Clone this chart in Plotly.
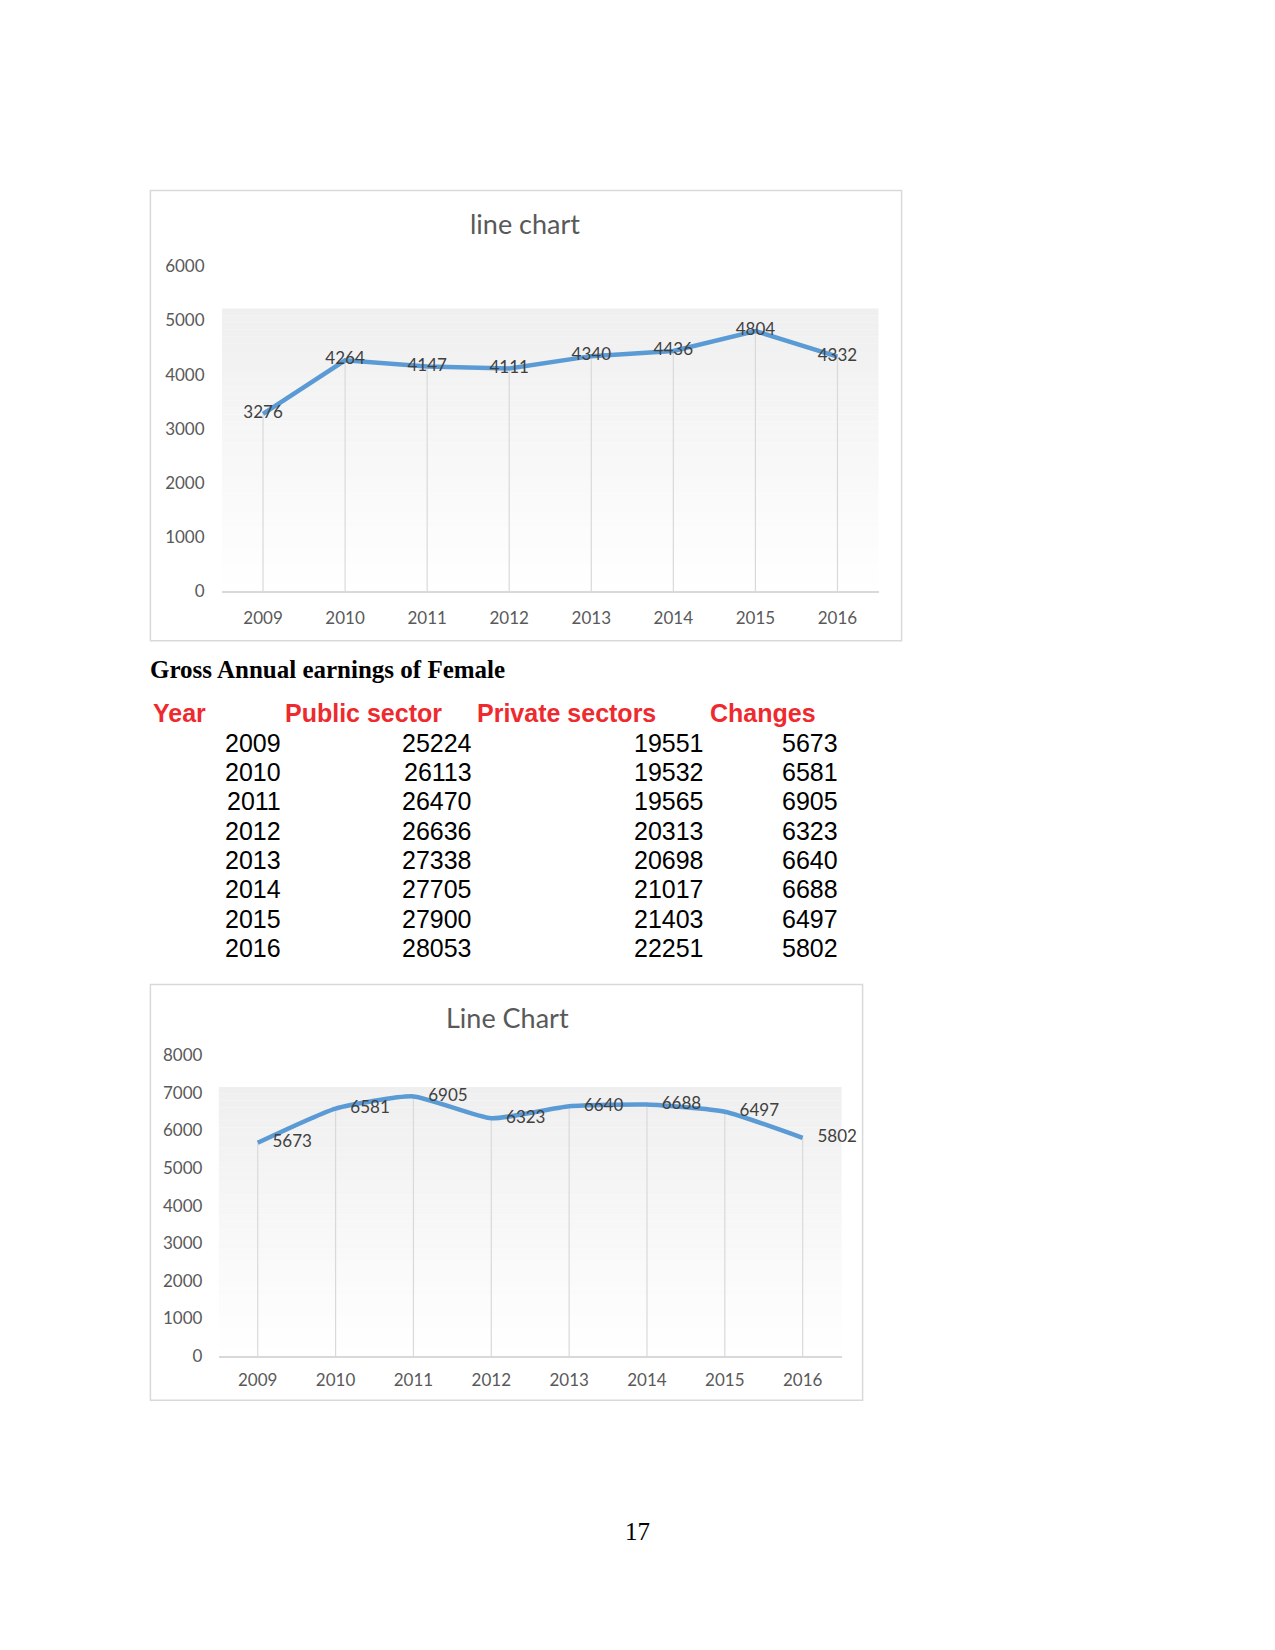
import plotly.graph_objects as go

# ---------------- data ----------------
years = ["2009", "2010", "2011", "2012", "2013", "2014", "2015", "2016"]
chart1_values = [3276, 4264, 4147, 4111, 4340, 4436, 4804, 4332]
public_sector = [25224, 26113, 26470, 26636, 27338, 27705, 27900, 28053]
private_sectors = [19551, 19532, 19565, 20313, 20698, 21017, 21403, 22251]
changes = [5673, 6581, 6905, 6323, 6640, 6688, 6497, 5802]
table_headers = ["Year", "Public sector", "Private sectors", "Changes"]
chart1_title = "line chart"
chart2_title = "Line Chart"
table_title = "Gross Annual earnings of Female"
page_number = "17"

W, H = 1275, 1650
def px(x):
    return x / W
def py(y):
    return 1 - y / H

LINE_COLOR = "#5B9BD5"
GRID_COLOR = "#D9D9D9"
TEXT_COLOR = "#595959"
LABEL_COLOR = "#404040"
FONT = "Lato"

fig = go.Figure()

def drop_lines(xs, ys, xa, ya):
    dx, dy = [], []
    for xv, yv in zip(xs, ys):
        dx += [xv, xv, None]
        dy += [0, yv, None]
    return go.Scatter(x=dx, y=dy, mode="lines", xaxis=xa, yaxis=ya,
                      line=dict(color=GRID_COLOR, width=1.2),
                      hoverinfo="skip", showlegend=False)

# chart 1
fig.add_trace(drop_lines(years, chart1_values, "x", "y"))
fig.add_trace(go.Scatter(
    x=years, y=chart1_values, mode="lines+text", xaxis="x", yaxis="y",
    text=[str(v) for v in chart1_values], textposition="middle center",
    textfont=dict(family=FONT, size=17, color=LABEL_COLOR),
    line=dict(color=LINE_COLOR, width=4.5), showlegend=False,
    cliponaxis=False))

# chart 2
fig.add_trace(drop_lines(years, changes, "x2", "y2"))
fig.add_trace(go.Scatter(
    x=years, y=changes, mode="lines+markers+text", xaxis="x2", yaxis="y2",
    text=[str(v) for v in changes], textposition="middle right",
    textfont=dict(family=FONT, size=17, color=LABEL_COLOR),
    marker=dict(size=22, color="rgba(0,0,0,0)"),
    line=dict(color=LINE_COLOR, width=4.5, shape="spline", smoothing=0.5),
    showlegend=False, cliponaxis=False))

axis_common = dict(showgrid=False, zeroline=False, fixedrange=True,
                   tickfont=dict(family=FONT, size=17, color=TEXT_COLOR))

fig.update_layout(
    width=W, height=H, margin=dict(l=0, r=0, t=0, b=0, autoexpand=False),
    paper_bgcolor="white", plot_bgcolor="rgba(0,0,0,0)",
    xaxis=dict(domain=[px(222), px(878.5)], anchor="y", type="category",
               range=[-0.5, 7.5], showline=True, linecolor=GRID_COLOR, linewidth=1.5,
               ticks="outside", ticklen=11, tickcolor="rgba(0,0,0,0)", **axis_common),
    yaxis=dict(domain=[py(591.3), py(266.2)], anchor="x", range=[0, 6000],
               dtick=1000, showline=False, ticks="outside", ticklen=13,
               tickcolor="rgba(0,0,0,0)", **axis_common),
    xaxis2=dict(domain=[px(218.8), px(841.6)], anchor="y2", type="category",
                range=[-0.5, 7.5], showline=True, linecolor=GRID_COLOR, linewidth=1.5,
                ticks="outside", ticklen=8, tickcolor="rgba(0,0,0,0)", **axis_common),
    yaxis2=dict(domain=[py(1356.1), py(1055.2)], anchor="x2", range=[0, 8000],
                dtick=1000, showline=False, ticks="outside", ticklen=12,
                tickcolor="rgba(0,0,0,0)", **axis_common),
)

shapes = []
# gradient plot backgrounds
def gradient(xref, yref, top_frac, n=40):
    out = []
    for i in range(n):
        f0 = top_frac * i / n
        f1 = top_frac * (i + 1) / n
        t = 1 - (i + 0.5) / n  # 1 at top, 0 at bottom
        c = int(round(239 + (255 - 239) * t))
        out.append(dict(type="rect", xref=xref, yref=yref, x0=0, x1=1, y0=f0, y1=f1,
                        fillcolor=f"rgb({c},{c},{c})", line=dict(width=0), layer="below"))
    return out

shapes += gradient("x domain", "y domain", 0.87)
shapes += gradient("x2 domain", "y2 domain", 0.894)

# chart borders
for (x0, y0, x1, y1) in [(150.4, 190.4, 901.6, 640.7), (150.4, 984.6, 862.6, 1400.3)]:
    shapes.append(dict(type="rect", xref="paper", yref="paper",
                       x0=px(x0), x1=px(x1), y0=py(y1), y1=py(y0),
                       line=dict(color=GRID_COLOR, width=1.5), fillcolor="rgba(0,0,0,0)",
                       layer="below"))
fig.update_layout(shapes=shapes)

ann = []
# chart titles
ann.append(dict(text=chart1_title, x=px(525), y=py(224), xref="paper", yref="paper",
                showarrow=False, xanchor="center", yanchor="middle",
                font=dict(family=FONT, size=27, color=TEXT_COLOR)))
ann.append(dict(text=chart2_title, x=px(507), y=py(1017), xref="paper", yref="paper",
                showarrow=False, xanchor="center", yanchor="middle",
                font=dict(family=FONT, size=27, color=TEXT_COLOR)))
# table title
ann.append(dict(text="<b>" + table_title + "</b>", x=px(148), y=py(670), xref="paper",
                yref="paper", showarrow=False, xanchor="left", yanchor="middle",
                font=dict(family="Liberation Serif", size=25, color="black")))
# headers
header_x = [150.5, 283, 474.5, 707.5]
for hx, h in zip(header_x, table_headers):
    ann.append(dict(text="<b>" + h + "</b>", x=px(hx), y=py(713), xref="paper", yref="paper",
                    showarrow=False, xanchor="left", yanchor="middle",
                    font=dict(family="Liberation Sans", size=25, color="#EE2A2E")))
# rows
col_right = [283, 474, 706, 840]
row_y0, row_dy = 742.7, 29.3
for i in range(len(years)):
    vals = [years[i], public_sector[i], private_sectors[i], changes[i]]
    for cx, v in zip(col_right, vals):
        ann.append(dict(text=str(v), x=px(cx), y=py(row_y0 + i * row_dy), xref="paper",
                        yref="paper", showarrow=False, xanchor="right", yanchor="middle",
                        font=dict(family="Liberation Sans", size=25, color="black")))
# page number
ann.append(dict(text=page_number, x=px(637.5), y=py(1531), xref="paper", yref="paper",
                showarrow=False, xanchor="center", yanchor="middle",
                font=dict(family="Liberation Serif", size=25, color="black")))
fig.update_layout(annotations=ann)

fig.write_html(
    "out.html",
    config={"displayModeBar": False},
    post_script=(
        "document.documentElement.style.margin='0';"
        "document.documentElement.style.overflow='hidden';"
        "document.body.style.margin='0';document.body.style.padding='0';"
        "document.body.style.overflow='hidden';"
        "var gd=document.getElementById('{plot_id}');"
        "gd.style.position='fixed';gd.style.top='0px';gd.style.left='0px';"
    ),
)
